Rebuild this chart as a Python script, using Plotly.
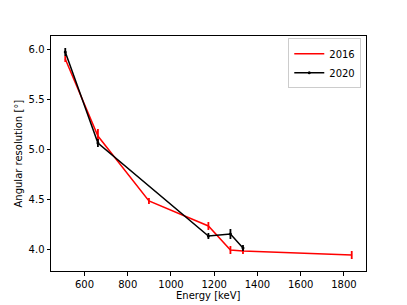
import plotly.graph_objects as go

# energies [keV] and angular resolution [deg]
energy_2016 = [511, 662, 898, 1173, 1275, 1333, 1836]
res_2016 = [5.90, 5.13, 4.48, 4.23, 3.99, 3.98, 3.94]
err_2016 = [0.03, 0.07, 0.03, 0.04, 0.04, 0.03, 0.04]

energy_2020 = [511, 662, 1173, 1275, 1333]
res_2020 = [5.97, 5.06, 4.13, 4.15, 4.01]
err_2020 = [0.04, 0.04, 0.03, 0.05, 0.03]

font = dict(family="DejaVu Sans", size=10, color="black")

fig = go.Figure()
fig.add_trace(go.Scatter(x=energy_2016, y=res_2016, name="2016", mode="lines",
                         line=dict(color="red", width=1.5),
                         error_y=dict(type="data", array=err_2016, color="red",
                                      thickness=1.8, width=0)))
fig.add_trace(go.Scatter(x=energy_2020, y=res_2020, name="2020", mode="lines+markers",
                         line=dict(color="black", width=1.5),
                         marker=dict(size=3, color="black"),
                         error_y=dict(type="data", array=err_2020, color="black",
                                      thickness=1.8, width=0)))

axis_style = dict(showline=True, linecolor="black", linewidth=1, mirror=True,
                  ticks="outside", ticklen=3.5, tickcolor="black", showgrid=False,
                  zeroline=False, tickfont=font, automargin=False)

# the page body adds an 8px margin, so the figure is 8px smaller than the window
# frame ends up at x 51..366, y 36..271 in the window
fig.update_layout(
    width=399, height=297,
    margin=dict(l=43, r=41, t=28, b=34),
    plot_bgcolor="white", paper_bgcolor="white",
    font=font,
    xaxis=dict(range=[445, 1902], dtick=200, tick0=0, **axis_style),
    yaxis=dict(range=[3.78, 6.13], dtick=0.5, tick0=0, tickformat=".1f", **axis_style),
    legend=dict(x=0.985, y=0.99, xanchor="right", yanchor="top",
                bordercolor="#cccccc", borderwidth=1, bgcolor="rgba(255,255,255,0.8)",
                font=dict(family="DejaVu Sans", size=10), tracegroupgap=0,
                itemwidth=30),
    showlegend=True,
)

fig.add_annotation(text="Energy [keV]", x=0.5, y=0, xref="paper", yref="paper",
                   xanchor="center", yanchor="top", yshift=-17, showarrow=False,
                   font=font)
fig.add_annotation(text="Angular resolution [°]", x=0, y=0.5, xref="paper", yref="paper",
                   xanchor="center", yanchor="middle", xshift=-33, textangle=-90,
                   showarrow=False, font=font)

fig.write_html("out.html")
